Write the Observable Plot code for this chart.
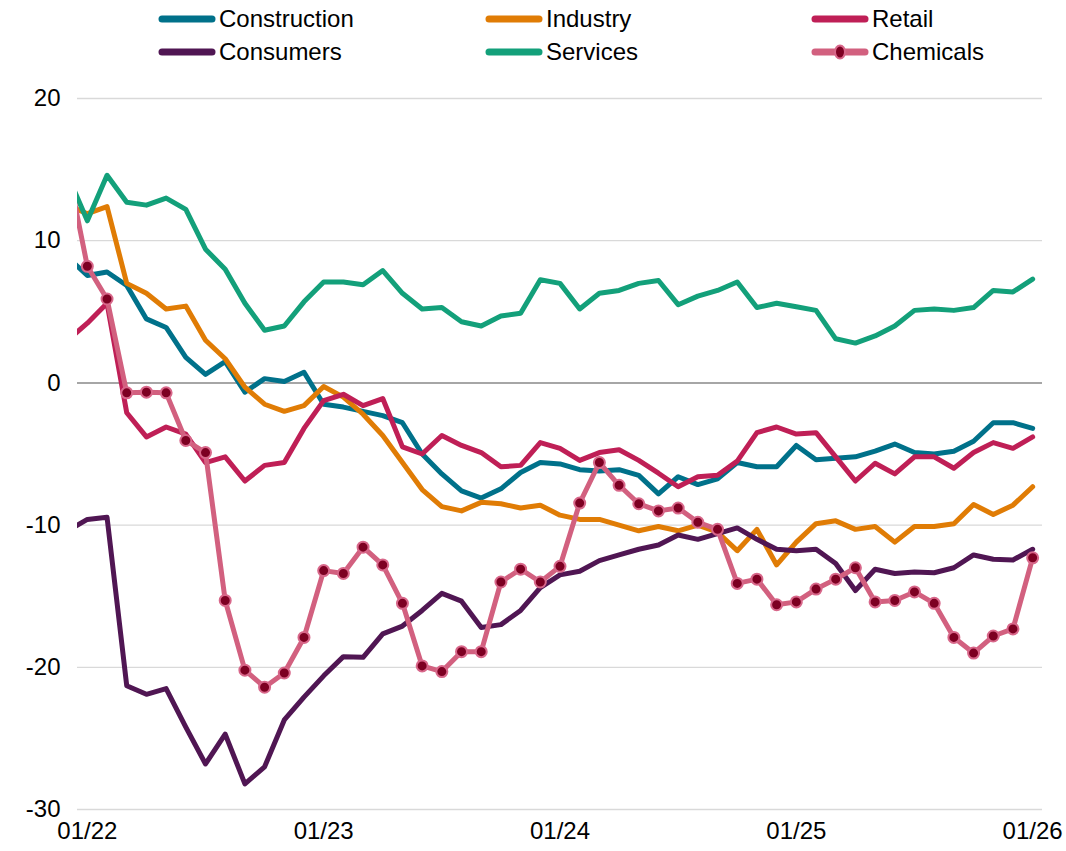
<!DOCTYPE html>
<html>
<head>
<meta charset="utf-8">
<script src="https://cdn.jsdelivr.net/npm/d3@7"></script>
<script src="https://cdn.jsdelivr.net/npm/@observablehq/plot@0.6"></script>
<style>
  html, body { margin: 0; padding: 0; background: #fff; }
  body { width: 1066px; height: 851px; overflow: hidden; font-family: "Liberation Sans", Arial, sans-serif; }
  #legend { position: relative; width: 1066px; height: 70px; }
  .item { position: absolute; display: flex; align-items: center; font-size: 24px; color: #000; line-height: 1; }
  .item svg { display: block; margin-right: 3px; }
  #chart svg { display: block; }
</style>
</head>
<body>
<div id="legend"></div>
<div id="chart"></div>
<script>
// Month index: -1 = 12/21, 0 = 01/22 ... 48 = 01/26
const monthIndex = d3.range(-1, 49);
const xTickIndex = [0, 12, 24, 36, 48];
const xTickLabels = ["01/22", "01/23", "01/24", "01/25", "01/26"];
const yTicks = [-30, -20, -10, 0, 10, 20];

const seriesNames = ["Construction", "Industry", "Retail", "Consumers", "Services", "Chemicals"];
const seriesColors = ["#00718A", "#E07C05", "#BF1F56", "#501653", "#13A07A", "#D2607F"];

const construction = [8.85, 7.55, 7.8, 6.85, 4.5, 3.9, 1.8, 0.6, 1.5, -0.65, 0.3, 0.1, 0.75, -1.5, -1.7, -2.0, -2.3, -2.8, -5.0, -6.4, -7.6, -8.1, -7.45, -6.3, -5.6, -5.7, -6.1, -6.2, -6.1, -6.5, -7.8, -6.6, -7.15, -6.75, -5.6, -5.9, -5.9, -4.4, -5.4, -5.3, -5.2, -4.8, -4.3, -4.9, -5.0, -4.8, -4.1, -2.8, -2.8, -3.2];
const industry = [12.5, 11.9, 12.4, 7.0, 6.3, 5.2, 5.4, 3.0, 1.7, -0.3, -1.5, -2.0, -1.6, -0.25, -1.0, -2.2, -3.7, -5.6, -7.5, -8.7, -9.0, -8.4, -8.5, -8.8, -8.6, -9.3, -9.6, -9.6, -10.0, -10.4, -10.1, -10.4, -10.0, -10.5, -11.8, -10.3, -12.8, -11.2, -9.9, -9.7, -10.3, -10.1, -11.2, -10.1, -10.1, -9.9, -8.55, -9.25, -8.6, -7.3];
const retail = [3.0, 4.2, 5.6, -2.1, -3.8, -3.1, -3.6, -5.6, -5.2, -6.9, -5.8, -5.6, -3.2, -1.25, -0.8, -1.6, -1.1, -4.5, -5.0, -3.7, -4.4, -4.9, -5.9, -5.8, -4.2, -4.6, -5.45, -4.9, -4.7, -5.45, -6.35, -7.3, -6.6, -6.5, -5.5, -3.5, -3.1, -3.6, -3.5, -5.2, -6.9, -5.65, -6.4, -5.2, -5.2, -6.0, -4.9, -4.2, -4.6, -3.8];
const consumers = [-10.4, -9.6, -9.45, -21.3, -21.9, -21.5, -24.2, -26.8, -24.7, -28.2, -27.0, -23.7, -22.1, -20.6, -19.25, -19.3, -17.65, -17.1, -16.0, -14.8, -15.35, -17.2, -17.0, -16.0, -14.4, -13.5, -13.25, -12.5, -12.1, -11.7, -11.4, -10.7, -11.0, -10.6, -10.2, -11.0, -11.7, -11.8, -11.7, -12.7, -14.6, -13.1, -13.4, -13.3, -13.35, -13.0, -12.1, -12.4, -12.45, -11.7];
const services = [14.6, 11.4, 14.6, 12.7, 12.5, 13.0, 12.2, 9.4, 8.0, 5.6, 3.7, 4.0, 5.7, 7.1, 7.1, 6.9, 7.9, 6.3, 5.2, 5.3, 4.3, 4.0, 4.7, 4.9, 7.25, 7.0, 5.2, 6.3, 6.5, 7.0, 7.2, 5.5, 6.1, 6.5, 7.1, 5.3, 5.6, 5.35, 5.1, 3.1, 2.8, 3.3, 4.0, 5.1, 5.2, 5.1, 5.3, 6.5, 6.4, 7.3];
const chemicals = [15.1, 8.2, 5.9, -0.7, -0.65, -0.7, -4.05, -4.9, -15.3, -20.2, -21.4, -20.4, -17.9, -13.2, -13.4, -11.55, -12.8, -15.5, -19.9, -20.3, -18.9, -18.9, -14.0, -13.1, -14.0, -12.9, -8.45, -5.6, -7.2, -8.5, -9.0, -8.8, -9.8, -10.3, -14.1, -13.8, -15.6, -15.4, -14.5, -13.8, -13.0, -15.4, -15.3, -14.7, -15.5, -17.9, -19.0, -17.8, -17.3, -12.3];

const seriesValues = [construction, industry, retail, consumers, services, chemicals];
const markerFill = "#7D0022";
const markerStroke = "#D8678A";

const data = seriesNames.flatMap((name, s) =>
  seriesValues[s].map((v, k) => ({series: name, i: monthIndex[k], v}))
);
const chemDots = data.filter(d => d.series === "Chemicals" && d.i >= 0);

// Legend
const legend = document.getElementById("legend");
const colX = [158, 485, 811];
const rowY = [19, 52];
seriesNames.forEach((name, k) => {
  const col = k % 3, row = Math.floor(k / 3);
  const item = document.createElement("div");
  item.className = "item";
  item.style.left = colX[col] + "px";
  item.style.top = (rowY[row] - 12) + "px";
  item.style.height = "24px";
  const ns = "http://www.w3.org/2000/svg";
  const svg = document.createElementNS(ns, "svg");
  svg.setAttribute("width", 58);
  svg.setAttribute("height", 16);
  const ln = document.createElementNS(ns, "line");
  ln.setAttribute("x1", 4); ln.setAttribute("x2", 54);
  ln.setAttribute("y1", 8); ln.setAttribute("y2", 8);
  ln.setAttribute("stroke", seriesColors[k]);
  ln.setAttribute("stroke-width", 7);
  ln.setAttribute("stroke-linecap", "round");
  svg.appendChild(ln);
  if (name === "Chemicals") {
    const c = document.createElementNS(ns, "ellipse");
    c.setAttribute("cx", 29); c.setAttribute("cy", 8);
    c.setAttribute("rx", 5); c.setAttribute("ry", 6.5);
    c.setAttribute("fill", markerFill);
    c.setAttribute("stroke", markerStroke);
    c.setAttribute("stroke-width", 2);
    svg.appendChild(c);
  }
  item.appendChild(svg);
  const t = document.createElement("span");
  t.textContent = name;
  item.appendChild(t);
  legend.appendChild(item);
});

const chart = Plot.plot({
  width: 1066,
  height: 781,
  marginLeft: 77,
  marginRight: 24,
  marginTop: 28,
  marginBottom: 42,
  style: {fontFamily: "'Liberation Sans', Arial, sans-serif", fontSize: "24px", color: "#000", background: "#fff"},
  x: {domain: [-0.5, 48.5], ticks: xTickIndex, tickFormat: d => xTickLabels[xTickIndex.indexOf(d)], tickSize: 0, tickPadding: 12, label: null},
  y: {domain: [-30, 20], ticks: yTicks, tickFormat: d => String(d), tickSize: 0, tickPadding: 17, label: null},
  color: {domain: seriesNames, range: seriesColors},
  marks: [
    Plot.ruleY(yTicks.filter(d => d !== 0), {stroke: "#d9d9d9", strokeWidth: 1.3}),
    Plot.ruleY([0], {stroke: "#a6a6a6", strokeWidth: 2}),
    Plot.lineY(data, {x: "i", y: "v", z: "series", stroke: "series", strokeWidth: 5, strokeLinejoin: "round", clip: true}),
    Plot.dot(chemDots, {x: "i", y: "v", r: 5.5, fill: markerFill, stroke: markerStroke, strokeWidth: 2, clip: true})
  ]
});
document.getElementById("chart").appendChild(chart);
</script>
</body>
</html>
